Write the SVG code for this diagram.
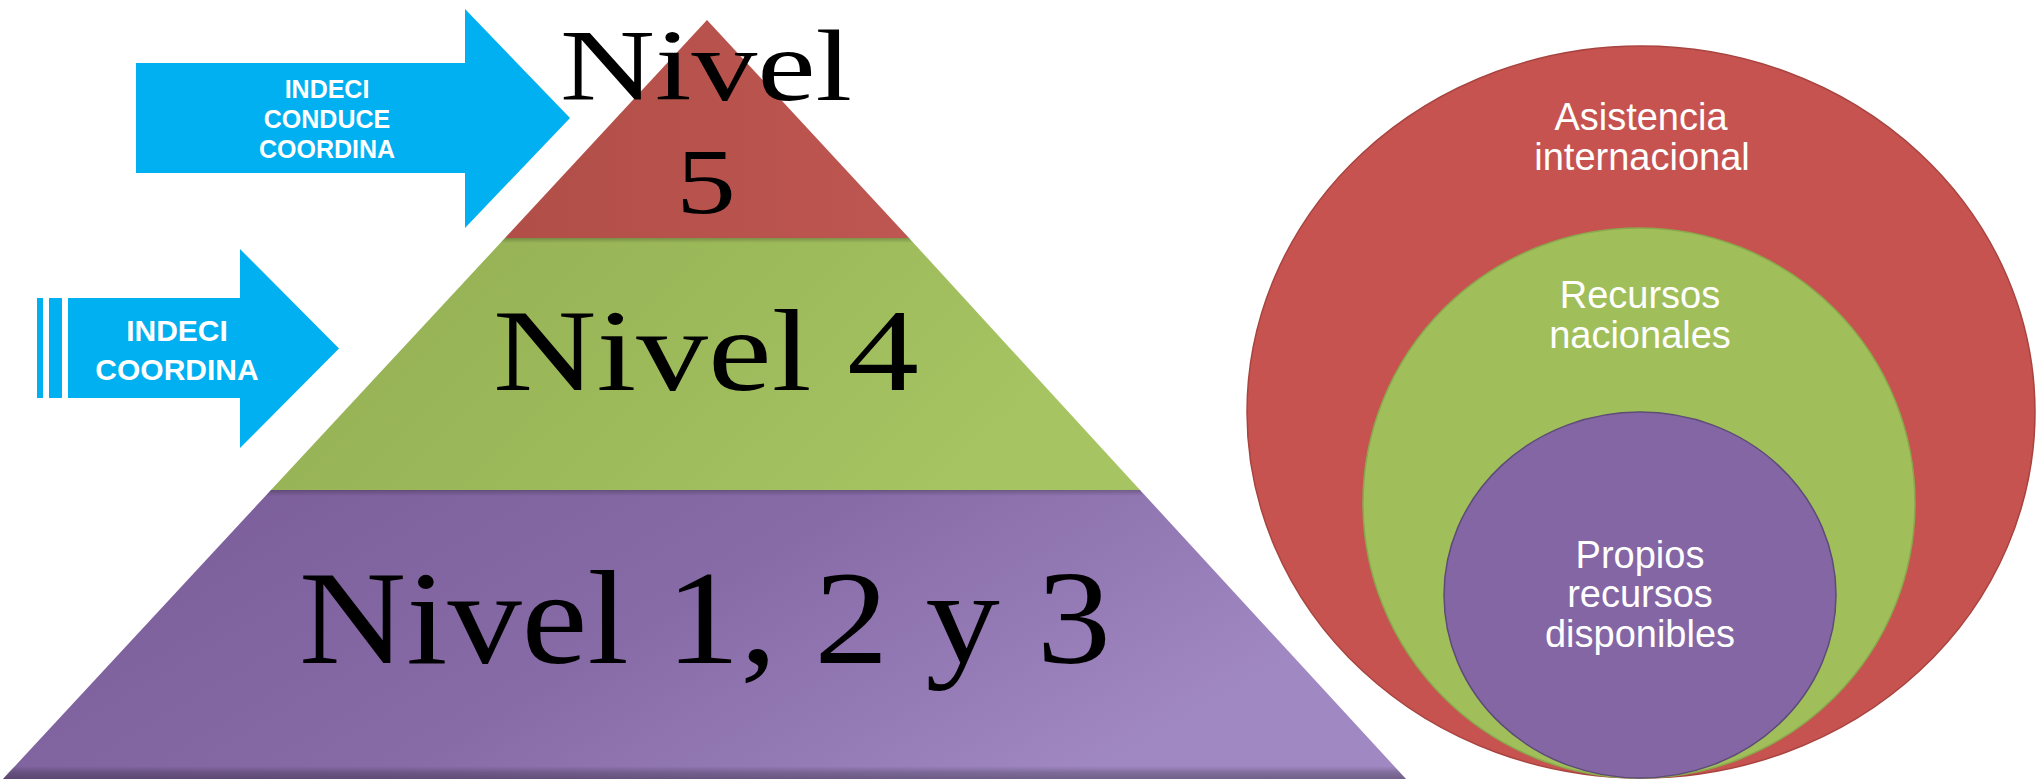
<svg xmlns="http://www.w3.org/2000/svg" width="2044" height="779" viewBox="0 0 2044 779">
  <defs>
    <linearGradient id="gRed" x1="0" y1="0" x2="1" y2="0">
      <stop offset="0" stop-color="#B14E48"/>
      <stop offset="1" stop-color="#BE5651"/>
    </linearGradient>
    <linearGradient id="gGreen" x1="0" y1="0" x2="1" y2="0.3">
      <stop offset="0" stop-color="#92AE52"/>
      <stop offset="1" stop-color="#A6C462"/>
    </linearGradient>
    <linearGradient id="gPurple" x1="0" y1="0" x2="1" y2="0.35">
      <stop offset="0" stop-color="#785B96"/>
      <stop offset="0.55" stop-color="#876BA7"/>
      <stop offset="1" stop-color="#A088C2"/>
    </linearGradient>
    <linearGradient id="gShadeTop" x1="0" y1="0" x2="0" y2="1">
      <stop offset="0" stop-color="#000" stop-opacity="0.22"/>
      <stop offset="1" stop-color="#000" stop-opacity="0"/>
    </linearGradient>
    <linearGradient id="gShadeBottom" x1="0" y1="0" x2="0" y2="1">
      <stop offset="0" stop-color="#000" stop-opacity="0"/>
      <stop offset="0.5" stop-color="#000" stop-opacity="0.2"/>
      <stop offset="1" stop-color="#000" stop-opacity="0.3"/>
    </linearGradient>
  </defs>
  <style>
    .arrow { fill: #00B0F0; }
    .atext { font-family: "Liberation Sans", Arial, sans-serif; font-weight: bold; fill: #FFFFFF; text-anchor: middle; }
    .ptext { font-family: "Liberation Serif", "Times New Roman", serif; fill: #000000; text-anchor: middle; }
    .ctext { font-family: "Liberation Sans", Arial, sans-serif; font-size: 38px; fill: #FFFFFF; text-anchor: middle; }
  </style>
  <rect x="0" y="0" width="2044" height="779" fill="#FFFFFF"/>

  <!-- Pyramid -->
  <g id="nivel-1-2-3">
    <polygon points="271,490 1140,490 1406,779 3,779" fill="url(#gPurple)"/>
    <polygon points="271,490 1140,490 1144,496 266,496" fill="url(#gShadeTop)"/>
    <polygon points="14,766 1394,766 1406,779 3,779" fill="url(#gShadeBottom)"/>
    <text class="ptext" x="705" y="663" font-size="133" textLength="812" lengthAdjust="spacingAndGlyphs">Nivel 1, 2 y 3</text>
  </g>
  <g id="nivel-4">
    <polygon points="505,238 909,238 1140,490 271,490" fill="url(#gGreen)"/>
    <polygon points="505,238 909,238 913,243 500,243" fill="url(#gShadeTop)"/>
    <text class="ptext" x="706" y="390" font-size="116" textLength="426" lengthAdjust="spacingAndGlyphs">Nivel 4</text>
  </g>
  <g id="nivel-5">
    <polygon points="707,20 909,238 505,238" fill="url(#gRed)"/>
    <text class="ptext" x="706" y="100" font-size="101" textLength="292" lengthAdjust="spacingAndGlyphs">Nivel</text>
    <text class="ptext" x="706" y="213" font-size="94" textLength="60" lengthAdjust="spacingAndGlyphs">5</text>
  </g>

  <!-- Block arrows -->
  <g id="arrow-indeci-conduce">
    <polygon class="arrow" points="136,63 465,63 465,9 570,118 465,228 465,173 136,173"/>
    <text class="atext" x="327" y="98" font-size="25">INDECI</text>
    <text class="atext" x="327" y="128" font-size="25">CONDUCE</text>
    <text class="atext" x="327" y="158" font-size="25">COORDINA</text>
  </g>
  <g id="arrow-indeci-coordina">
    <rect class="arrow" x="37" y="298" width="6" height="100"/>
    <rect class="arrow" x="49" y="298" width="13" height="100"/>
    <polygon class="arrow" points="68,298 240,298 240,249 339,348.5 240,448 240,398 68,398"/>
    <text class="atext" x="177" y="341" font-size="30">INDECI</text>
    <text class="atext" x="177" y="380" font-size="30">COORDINA</text>
  </g>

  <!-- Nested circles -->
  <g id="asistencia-internacional">
    <ellipse cx="1641" cy="412" rx="394" ry="366" fill="#C65350" stroke="#A8443F" stroke-width="1.5"/>
    <text class="ctext" x="1641" y="130">Asistencia</text>
    <text class="ctext" x="1642" y="170">internacional</text>
  </g>
  <g id="recursos-nacionales">
    <ellipse cx="1639" cy="503" rx="276" ry="275" fill="#A0BF5A" stroke="#8AA84C" stroke-width="1.5"/>
    <text class="ctext" x="1640" y="308">Recursos</text>
    <text class="ctext" x="1640" y="348">nacionales</text>
  </g>
  <g id="propios-recursos">
    <ellipse cx="1640" cy="595" rx="196" ry="183" fill="#8466A4" stroke="#5E4C78" stroke-width="1.5"/>
    <text class="ctext" x="1640" y="568">Propios</text>
    <text class="ctext" x="1640" y="607">recursos</text>
    <text class="ctext" x="1640" y="647">disponibles</text>
  </g>
</svg>
